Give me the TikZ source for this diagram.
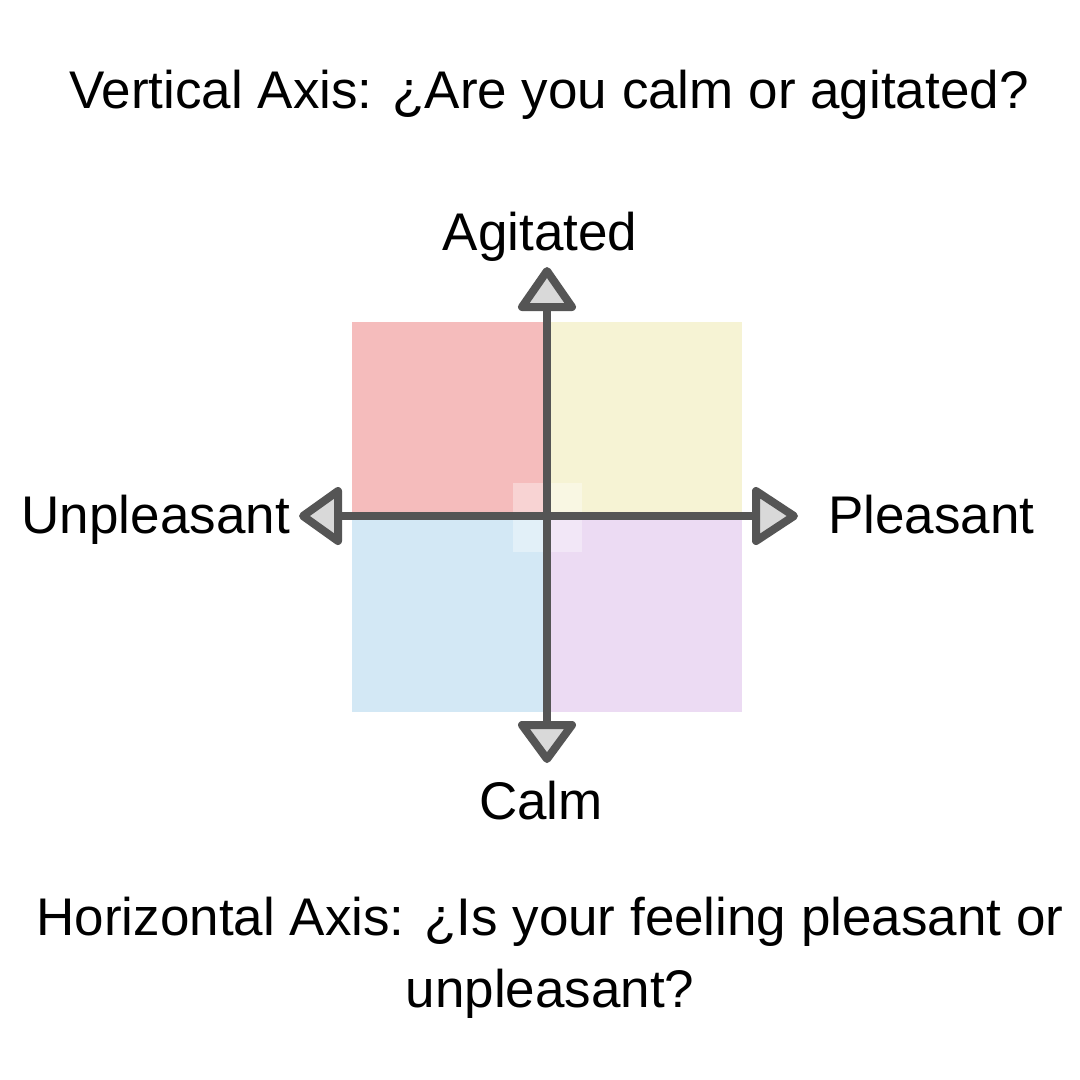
\documentclass[tikz,border=0pt]{standalone}
\usepackage{fontspec}
\setmainfont{Liberation Sans}
\usetikzlibrary{positioning,calc}

\definecolor{quadred}{HTML}{F5BCBC}
\definecolor{quadyellow}{HTML}{F6F3D4}
\definecolor{quadblue}{HTML}{D3E8F5}
\definecolor{quadpurple}{HTML}{ECDBF3}
\definecolor{axisgray}{HTML}{555555}
\definecolor{tipgray}{HTML}{D9D9D9}

\tikzset{
    axisline/.style = {line width=8pt, draw=axisgray, line cap=butt},
    axistip/.style  = {line width=8pt, draw=axisgray, fill=tipgray, line join=round},
    quadrant/.style = {draw=none},
    caption/.style  = {inner sep=0pt, font=\fontsize{53}{72}\selectfont, align=center},
    axislabel/.style = {inner sep=0pt, font=\fontsize{53}{64}\selectfont}
}

\begin{document}
\begin{tikzpicture}[x=1pt, y=-1pt]

    \useasboundingbox[fill=white] (0,0) rectangle (1080,1080);

    % --- Quadrants ---
    \fill[quadrant, quadred]    (352,322) rectangle (547,516);
    \fill[quadrant, quadyellow] (547,322) rectangle (742,516);
    \fill[quadrant, quadblue]   (352,516) rectangle (547,712);
    \fill[quadrant, quadpurple] (547,516) rectangle (742,712);
    \fill[white, fill opacity=0.35] (513,483) rectangle (582,552);

    % --- Axis ends ---
    \coordinate (origin) at (547,516);
    \coordinate (ax_top)    at ($(origin)+(0,-209)$);
    \coordinate (ax_bottom) at ($(origin)+(0,209)$);
    \coordinate (ax_left)   at ($(origin)+(-209,0)$);
    \coordinate (ax_right)  at ($(origin)+(209,0)$);

    % --- Axes ---
    \draw[axisline] (ax_top) -- (ax_bottom);
    \draw[axisline] (ax_left) -- (ax_right);

    % --- Arrow heads ---
    \draw[axistip] ($(ax_top)+(-25,0)$) -- ($(ax_top)+(0,-36)$) -- ($(ax_top)+(25,0)$) -- cycle;
    \draw[axistip] ($(ax_bottom)+(-25,0)$) -- ($(ax_bottom)+(0,34)$) -- ($(ax_bottom)+(25,0)$) -- cycle;
    \draw[axistip] ($(ax_left)+(0,-25)$) -- ($(ax_left)+(-35,0)$) -- ($(ax_left)+(0,25)$) -- cycle;
    \draw[axistip] ($(ax_right)+(0,-25)$) -- ($(ax_right)+(38,0)$) -- ($(ax_right)+(0,25)$) -- cycle;

    % --- Axis labels ---
    \node[axislabel, anchor=base] (agitated) at (540,250) {Agitated};
    \node[axislabel, anchor=base] (calm) at (541,819) {Calm};
    \node[axislabel, anchor=base east] (unpleasant) at (290,533) {Unpleasant};
    \node[axislabel, anchor=base west] (pleasant) at (828,533) {Pleasant};

    % --- Questions ---
    \node[caption, anchor=base] (vquestion) at (549,108) {Vertical Axis: ¿Are you calm or agitated?};
    \node[caption, anchor=base] (hquestion) at (550,935) {Horizontal Axis: ¿Is your feeling pleasant or};
    \node[caption, anchor=base] (hquestion2) at (550,1007) {unpleasant?};

\end{tikzpicture}
\end{document}
